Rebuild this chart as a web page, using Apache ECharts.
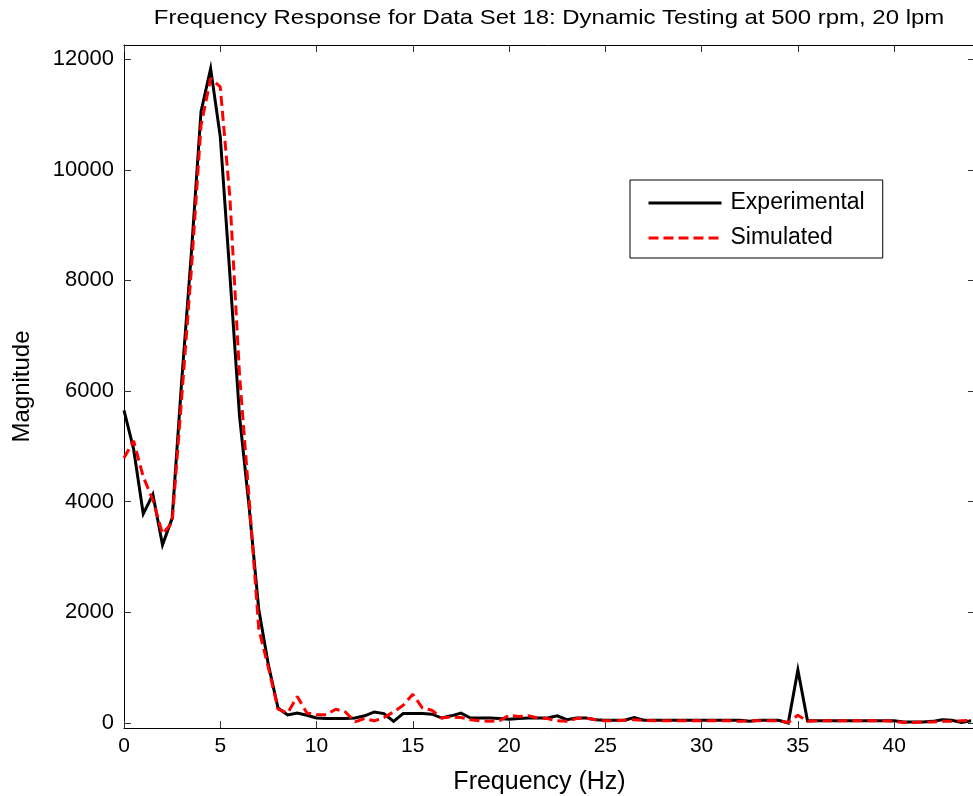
<!DOCTYPE html>
<html>
<head>
<meta charset="utf-8">
<script src="https://cdn.jsdelivr.net/npm/echarts@6/dist/echarts.min.js"></script>
<style>
html,body{margin:0;padding:0;background:#fff;}
#chart{width:973px;height:796px;}
</style>
</head>
<body>
<div id="chart"></div>
<script>
var frequencyHz = [0,0.5,1,1.5,2,2.5,3,3.5,4,4.5,5,5.5,6,6.5,7,7.5,
  8,8.5,9,9.5,10,10.5,11,11.5,12,12.5,13,13.5,14,14.5,15,15.5,
  16,16.5,17,17.5,18,18.5,19,19.5,20,20.5,21,21.5,22,22.5,23,23.5,
  24,24.5,25,25.5,26,26.5,27,27.5,28,28.5,29,29.5,30,30.5,31,31.5,
  32,32.5,33,33.5,34,34.5,35,35.5,36,36.5,37,37.5,38,38.5,39,39.5,
  40,40.5,41,41.5,42,42.5,43,43.5,44];

var experimental = [5650,4950,3780,4130,3220,3700,6200,8500,11050,11830,10600,8100,5550,3900,2050,1050,
  270,145,180,140,90,80,80,80,90,130,200,170,30,170,170,170,
  160,90,130,180,90,90,90,80,70,80,90,90,90,130,60,90,
  90,60,50,50,50,100,50,50,50,50,50,50,50,50,50,50,
  50,30,50,50,50,0,960,40,40,40,40,40,40,40,40,40,
  40,20,20,20,30,60,50,10,40];

var simulated = [4790,5100,4450,4030,3420,3620,5900,8200,10800,11650,11500,9500,6300,4050,1700,1000,
  250,180,480,180,150,150,250,200,20,80,40,100,200,320,520,270,
  230,90,110,100,60,40,30,40,140,120,130,90,80,40,30,80,
  90,60,40,40,50,60,50,40,40,40,40,40,40,40,40,40,
  30,40,40,40,40,10,140,30,40,40,40,40,40,40,40,40,
  30,10,10,20,20,30,30,40,50];

var yTicks = [0,2000,4000,6000,8000,10000,12000];
var seriesNames = ['Experimental','Simulated'];
var titleText = 'Frequency Response for Data Set 18: Dynamic Testing at 500 rpm, 20 lpm';

function pairs(xs, ys){ return xs.map(function(x,i){ return [x, ys[i]]; }); }

var FONT = 'Liberation Sans, Arial, sans-serif';
var chart = echarts.init(document.getElementById('chart'), null, {renderer:'canvas'});

var xCommon = {
  type:'value', min:0, max:44.2, interval:5,
  splitLine:{show:false},
  axisLine:{show:true, onZero:false, lineStyle:{color:'#000', width:1}},
  axisTick:{show:true, inside:true, length:7, lineStyle:{color:'#333', width:1}}
};
var yCommon = {
  type:'value', min:-90, max:12255,
  splitLine:{show:false},
  axisLine:{show:true, onZero:false, lineStyle:{color:'#000', width:1}},
  axisTick:{show:true, inside:true, length:7, customValues:yTicks, lineStyle:{color:'#333', width:1}}
};

chart.setOption({
  animation:false,
  backgroundColor:'#fff',
  graphic:[{
    type:'text', x:549, y:18, scaleX:1.14, silent:true,
    style:{text:titleText, font:'21px ' + FONT, fill:'#000', align:'center', verticalAlign:'middle'}
  }],
  grid:{left:124, right:-2, top:45, bottom:68, containLabel:false, outerBoundsMode:'none'},
  legend:{
    orient:'vertical', left:630, top:180,
    padding:[11,18,8,17],
    borderColor:'#000', borderWidth:1, backgroundColor:'#fff',
    itemWidth:73, itemHeight:14, itemGap:11,
    itemStyle:{color:'rgba(0,0,0,0)', borderWidth:0, opacity:0},
    lineStyle:{width:3},
    textStyle:{fontFamily:FONT, fontSize:23, color:'#000', lineHeight:24, padding:[0,0,0,4]},
    data:seriesNames
  },
  xAxis:[
    Object.assign({}, xCommon, {
      position:'bottom',
      name:'Frequency (Hz)', nameLocation:'middle', nameGap:42,
      nameTextStyle:{fontFamily:FONT, fontSize:25, color:'#000', padding:[0,20,0,0]},
      axisLabel:{show:true, fontFamily:FONT, fontSize:21, color:'#000', margin:8, showMaxLabel:false}
    }),
    Object.assign({}, xCommon, {position:'top', axisLabel:{show:false}})
  ],
  yAxis:[
    Object.assign({}, yCommon, {
      position:'left',
      name:'Magnitude', nameLocation:'middle', nameGap:90, nameRotate:90,
      nameTextStyle:{fontFamily:FONT, fontSize:24, color:'#000'},
      axisLabel:{show:true, customValues:yTicks, fontFamily:FONT, fontSize:22, color:'#000', margin:10,
        formatter:function(v){ return String(v); }}
    }),
    Object.assign({}, yCommon, {position:'right', axisLabel:{show:false}})
  ],
  series:[
    {
      name:seriesNames[0], type:'line', xAxisIndex:0, yAxisIndex:0,
      data:pairs(frequencyHz, experimental),
      symbol:'none', smooth:false,
      lineStyle:{color:'#000', width:3, join:'miter'},
      itemStyle:{color:'#000'}
    },
    {
      name:seriesNames[1], type:'line', xAxisIndex:0, yAxisIndex:0,
      data:pairs(frequencyHz, simulated),
      symbol:'none', smooth:false,
      lineStyle:{color:'#ff0000', width:3, type:[10,5]},
      itemStyle:{color:'#ff0000'}
    }
  ]
});
</script>
</body>
</html>
